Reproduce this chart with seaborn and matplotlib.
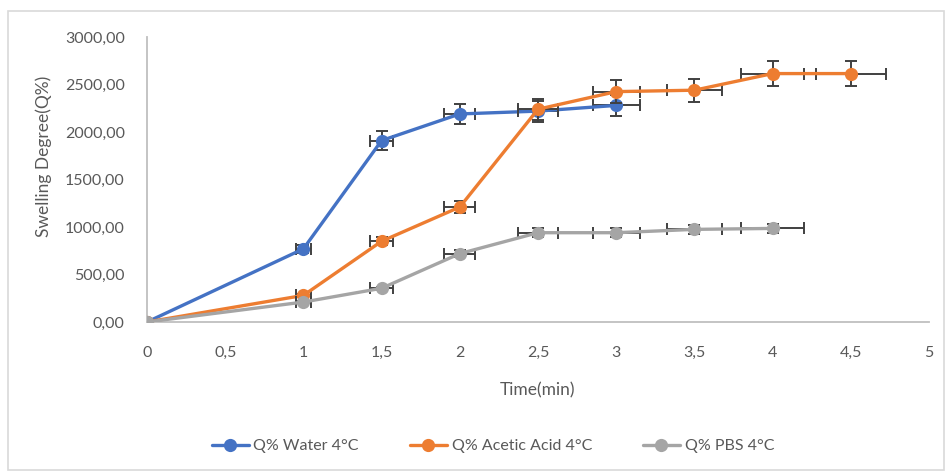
import matplotlib
matplotlib.use("Agg")
import matplotlib.pyplot as plt
from matplotlib.ticker import FuncFormatter, MultipleLocator
from matplotlib.patches import Rectangle
import seaborn as sns
import pandas as pd
import numpy as np

# ---- data ----
time_water = [0, 1, 1.5, 2, 2.5, 3]
q_water = [0, 770, 1910, 2190, 2220, 2280]

time_acetic = [0, 1, 1.5, 2, 2.5, 3, 3.5, 4, 4.5]
q_acetic = [0, 280, 850, 1210, 2240, 2425, 2440, 2615, 2615]

time_pbs = [0, 1, 1.5, 2, 2.5, 3, 3.5, 4]
q_pbs = [0, 210, 355, 720, 940, 940, 975, 985]

series_names = ["Q% Water 4°C", "Q% Acetic Acid 4°C", "Q% PBS 4°C"]
colors = ["#4472C4", "#ED7D31", "#A5A5A5"]
err_frac = 0.05  # 5% error bars (x and y)

sns.set_theme(style="white")
plt.rcParams['font.family'] = ['Lato', 'DejaVu Sans']

fig = plt.figure(figsize=(9.47, 4.75), dpi=100)
ax = fig.add_axes([147/947, 1-322/475, (929-147)/947, (322-37)/475])

series = [(time_water, q_water), (time_acetic, q_acetic), (time_pbs, q_pbs)]
for i, ((t, q), name, c) in enumerate(zip(series, series_names, colors)):
    df = pd.DataFrame({"time": t, "q": q})
    tt = np.asarray(t, float); qq = np.asarray(q, float)
    ax.errorbar(tt, qq, xerr=err_frac*tt, yerr=err_frac*qq, fmt="none",
                ecolor="#404040", elinewidth=1.4, capsize=4, capthick=1.4,
                zorder=2 + i)
    sns.lineplot(data=df, x="time", y="q", ax=ax, color=c, linewidth=2.4,
                 marker="o", markersize=9.5, markeredgewidth=0, label=name,
                 zorder=2.5 + i)

ax.set_xlim(0, 5)
ax.set_ylim(0, 3000)
ax.xaxis.set_major_locator(MultipleLocator(0.5))
ax.yaxis.set_major_locator(MultipleLocator(500))

def xfmt(v, pos):
    if abs(v - round(v)) < 1e-9:
        return str(int(round(v)))
    return f"{v:.1f}".replace(".", ",")

ax.xaxis.set_major_formatter(FuncFormatter(xfmt))
ax.yaxis.set_major_formatter(FuncFormatter(lambda v, p: f"{v:.2f}".replace(".", ",")))
ax.tick_params(axis="both", length=0, labelsize=11.5, labelcolor="#595959")
ax.tick_params(axis="x", pad=17)
ax.tick_params(axis="y", pad=16)

for s in ["top", "right"]:
    ax.spines[s].set_visible(False)
for s in ["left", "bottom"]:
    ax.spines[s].set_color("#BFBFBF")
    ax.spines[s].set_linewidth(1.3)

ax.set_xlabel("Time(min)", fontsize=12.5, color="#595959")
ax.xaxis.set_label_coords(0.5, -0.21)
ax.set_ylabel("Swelling Degree(Q%)", fontsize=12.5, color="#595959")
ax.yaxis.set_label_coords(-0.122, 0.58)

handles, labels = ax.get_legend_handles_labels()
ax.get_legend().remove()
fig.legend(handles, labels, loc="center", bbox_to_anchor=(493/947, 1-446/475),
           ncol=3, frameon=False, fontsize=11.5, labelcolor="#595959",
           handlelength=2.3, columnspacing=3.2, handletextpad=0.3)

fig.patches.append(Rectangle((8/947, 5/475), (944-8)/947, (467-8)/475,
                             transform=fig.transFigure, fill=False,
                             edgecolor="#D9D9D9", linewidth=1.2))

fig.savefig("out.png", dpi=100)
